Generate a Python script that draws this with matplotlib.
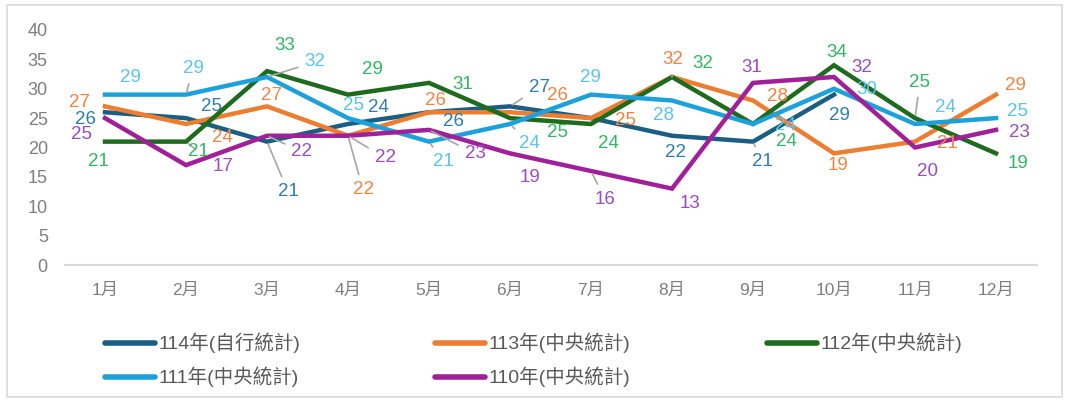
import matplotlib
matplotlib.use('Agg')
import matplotlib.pyplot as plt
from matplotlib.lines import Line2D
from matplotlib.patches import Rectangle

plt.rcParams['font.family'] = ['Liberation Sans', 'Noto Sans CJK TC', 'DejaVu Sans']

# 資料
months = ['1月', '2月', '3月', '4月', '5月', '6月', '7月', '8月', '9月', '10月', '11月', '12月']
y114 = [26, 25, 21, 24, 26, 27, 25, 22, 21, 29]
y113 = [27, 24, 27, 22, 26, 26, 25, 32, 28, 19, 21, 29]
y112 = [21, 21, 33, 29, 31, 25, 24, 32, 24, 34, 25, 19]
y111 = [29, 29, 32, 25, 21, 24, 29, 28, 24, 30, 24, 25]
y110 = [25, 17, 22, 22, 23, 19, 16, 13, 31, 32, 20, 23]
names = ['114年(自行統計)', '113年(中央統計)', '112年(中央統計)', '111年(中央統計)', '110年(中央統計)']

# 樣式: 線色, 標籤色
line_colors = ['#1B5E84', '#ED7D31', '#1E6B1E', '#1CA1DB', '#A0209A']
label_colors = ['#2E7DAA', '#F08444', '#33B562', '#5CC3EE', '#9A4DBE']

# 數值標籤位移 (像素, x 右, y 下), None 表示不顯示
offsets = [
    [(-19, 7), (26, -12), (21, 50), (30, -17), (24, 9), (29, -19), None, (4, 17), (9, 20), (5, 21)],
    [(-25, -4), (36, 13), (4, -11), (15, 54), (6, -12), (47, -17), (34, 2), (1, -17), (24, -4), (4, 12), (32, 2), (19, -9)],
    [(-7, 20), (12, 10), (18, -26), (24, -25), (34, 2), (48, 14), (17, 20), (31, -14), (33, 18), (3, -13), (5, -36), (22, 10)],
    [(25, -17), (7, -26), (48, -15), (5, -13), (14, 20), (19, 19), (-1, -17), (-9, 15), (32, 1), (33, 1), (30, -17), (21, -7)],
    [(-24, 16), (37, 1), (35, 16), (37, 22), (46, 24), (20, 24), (14, 28), (18, 15), (-1, -15), (28, -9), (12, 24), (23, 3)],
]
# 引導線 (系列, 月份索引)
leaders = {(3, 1), (2, 1), (3, 2), (4, 2), (0, 2), (4, 3), (1, 3), (3, 4), (4, 4),
           (0, 5), (3, 5), (4, 6), (1, 7), (0, 8), (2, 10)}

W, H = 1065, 401
fig = plt.figure(figsize=(W / 100, H / 100), dpi=100)
fig.patches.append(Rectangle((7 / W, 4 / H), (1062 - 7) / W, (396 - 4) / H,
                             transform=fig.transFigure, fill=False,
                             edgecolor='#D9D9D9', linewidth=1.2))

ax = fig.add_axes([64.5 / W, (H - 265) / H, 972 / W, (265 - 30) / H])
ax.set_xlim(-0.5, 11.5)
ax.set_ylim(0, 40)
ax.set_yticks(range(0, 41, 5))
ax.set_xticks(range(12))
ax.set_xticklabels(months)
for s in ['top', 'right', 'left']:
    ax.spines[s].set_visible(False)
ax.spines['bottom'].set_color('#D9D9D9')
ax.spines['bottom'].set_linewidth(1.5)
ax.tick_params(axis='both', length=0, colors='#7F7F7F')
ax.tick_params(axis='y', labelsize=13, pad=12)
ax.tick_params(axis='x', labelsize=12.5, pad=13)
ax.patch.set_alpha(0)

series = [y114, y113, y112, y111, y110]
for k, vals in enumerate(series):
    xs = list(range(len(vals)))
    ax.plot(xs, vals, color=line_colors[k], linewidth=3.2, solid_joinstyle='miter', zorder=3)
    for i, v in enumerate(vals):
        off = offsets[k][i]
        if off is None:
            continue
        props = None
        if (k, i) in leaders:
            props = dict(arrowstyle='-', color='#A6A6A6', lw=1.2, shrinkA=3, shrinkB=2)
        ax.annotate(str(v), xy=(i, v), xytext=(off[0], -off[1]), textcoords='offset pixels',
                    ha='center', va='center', fontsize=13.5, color=label_colors[k],
                    arrowprops=props, zorder=4)

# 圖例
legend_pos = [(105, 343), (435, 343), (767, 343), (105, 377), (435, 377)]
for k, name in enumerate(names):
    px, py = legend_pos[k]
    fig.add_artist(Line2D([px / W, (px + 50) / W], [1 - py / H, 1 - py / H],
                          transform=fig.transFigure, color=line_colors[k],
                          linewidth=4, solid_capstyle='round'))
    fig.text((px + 53) / W, 1 - py / H, name, ha='left', va='center',
             fontsize=14, color='#595959')

fig.savefig('out.png', dpi=100)
